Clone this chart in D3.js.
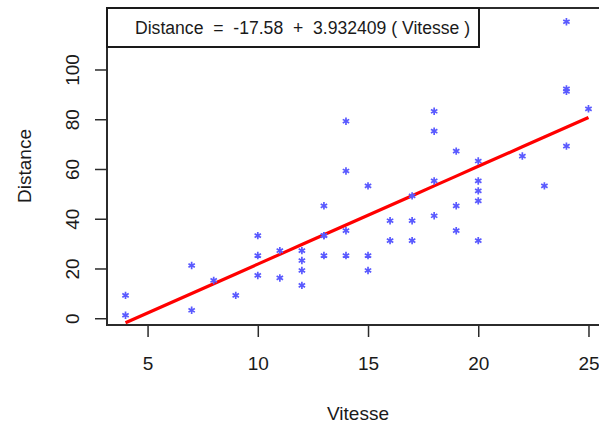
<!DOCTYPE html>
<html>
<head>
<meta charset="utf-8">
<script src="https://cdn.jsdelivr.net/npm/d3@7"></script>
<style>
  html, body { margin: 0; padding: 0; background: #fff; }
  svg { display: block; }
  text { font-family: "Liberation Sans", Arial, sans-serif; fill: #1a1a1a; }
</style>
</head>
<body>
<svg id="chart" width="599" height="423"></svg>
<script>
// cars: stopping distance vs speed
const vitesse = [4,4,7,7,8,9,10,10,10,11,11,12,12,12,12,13,13,13,13,14,14,14,14,15,15,15,16,16,17,17,17,18,18,18,18,19,19,19,20,20,20,20,20,22,23,24,24,24,24,25];
const distance = [2,10,4,22,16,10,18,26,34,17,28,14,20,24,28,26,34,34,46,26,36,60,80,20,26,54,32,40,32,40,50,42,56,76,84,36,46,68,32,48,52,56,64,66,54,70,92,93,120,85];
const xTicks = [5,10,15,20,25];
const yTicks = [0,20,40,60,80,100];
const intercept = -17.58;
const slope = 3.932409;
const legendLabel = "Distance  =  -17.58  +  3.932409 ( Vitesse )";

const svg = d3.select("#chart");
const plotL = 107, plotT = 8, plotB = 325, plotR = 607;

// axis ranges padded by 4% of the data range
const xr = d3.extent(vitesse), yr = d3.extent(distance);
const xPad = (xr[1] - xr[0]) * 0.04, yPad = (yr[1] - yr[0]) * 0.04;
const x = d3.scaleLinear().domain([xr[0] - xPad, xr[1] + xPad]).range([plotL, plotR]);
const y = d3.scaleLinear().domain([yr[0] - yPad, yr[1] + yPad]).range([plotB, plotT]);

const axisColor = "#2b2b2b";

// x axis
const gx = svg.append("g").attr("transform", `translate(0,${plotB})`)
  .call(d3.axisBottom(x).tickValues(xTicks).tickSize(12).tickFormat(d3.format("d")));
gx.select(".domain").remove();
gx.selectAll(".tick line").attr("stroke", axisColor).attr("stroke-width", 1.5);
gx.selectAll(".tick text").attr("y", 45).attr("dy", null)
  .style("font-size", "19px").attr("fill", "#1a1a1a");

// y axis, labels rotated parallel to the axis
const gy = svg.append("g").attr("transform", `translate(${plotL},0)`)
  .call(d3.axisLeft(y).tickValues(yTicks).tickSize(12).tickFormat(d3.format("d")));
gy.select(".domain").remove();
gy.selectAll(".tick line").attr("stroke", axisColor).attr("stroke-width", 1.5);
gy.selectAll(".tick text")
  .attr("x", null).attr("dy", null)
  .attr("text-anchor", "middle")
  .attr("transform", "translate(-28,0) rotate(-90)")
  .style("font-size", "19px").attr("fill", "#1a1a1a");

// axis titles
svg.append("text").attr("x", 358).attr("y", 420).attr("text-anchor", "middle")
  .style("font-size", "19px").text("Vitesse");
svg.append("text").attr("transform", "translate(31,166) rotate(-90)")
  .attr("text-anchor", "middle").style("font-size", "19px").text("Distance");

// fitted line
const line = d3.line().x(d => x(d)).y(d => y(intercept + slope * d));
svg.append("path").datum(vitesse).attr("d", line)
  .attr("fill", "none").attr("stroke", "#ff0000").attr("stroke-width", 3.2);

// points drawn as asterisks
svg.append("g").selectAll("path").data(vitesse.map((v, i) => [v, distance[i]]))
  .join("path")
  .attr("d", d3.symbol().type(d3.symbolAsterisk).size(38))
  .attr("transform", d => `translate(${x(d[0])},${y(d[1]) + 2})`)
  .attr("fill", "none").attr("stroke", "#5a5aff").attr("stroke-width", 1.7);

// plot frame
svg.append("rect").attr("x", plotL).attr("y", plotT)
  .attr("width", plotR - plotL).attr("height", plotB - plotT)
  .attr("fill", "none").attr("stroke", axisColor).attr("stroke-width", 2);

// legend with the fitted equation
svg.append("rect").attr("x", plotL).attr("y", plotT).attr("width", 372).attr("height", 39)
  .attr("fill", "#fff").attr("stroke", "#1a1a1a").attr("stroke-width", 2);
svg.append("text").attr("x", 135).attr("y", 34)
  .style("font-size", "17.6px").style("white-space", "pre")
  .text(legendLabel);
</script>
</body>
</html>
